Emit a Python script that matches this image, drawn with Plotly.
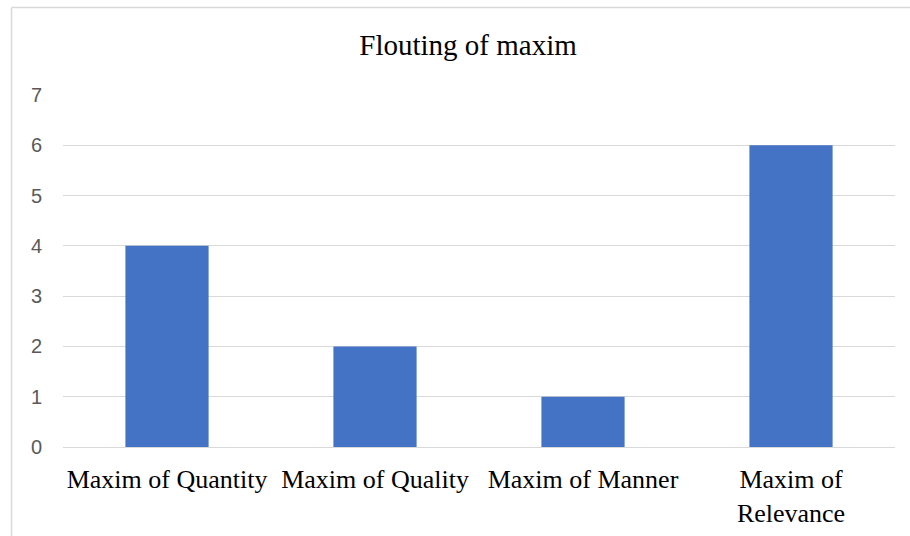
import plotly.graph_objects as go

categories = ["Maxim of Quantity", "Maxim of Quality", "Maxim of Manner", "Maxim of<br>Relevance"]
values = [4, 2, 1, 6]
y_ticks = [0, 1, 2, 3, 4, 5, 6, 7]

W, H = 910, 536
ml, mr, mt, mb = 63, 15, 95, 89
pw, ph = W - ml - mr, H - mt - mb

def px_x(p):
    return (p - ml) / pw

def px_y(p):
    return (H - mb - p) / ph

fig = go.Figure(go.Bar(x=categories, y=values, marker=dict(color="#4472C4", line=dict(width=0))))

border = "#D9D9D9"
fig.update_layout(
    width=W, height=H,
    margin=dict(l=ml, r=mr, t=mt, b=mb, autoexpand=False),
    paper_bgcolor="white", plot_bgcolor="white",
    bargap=0.6,
    showlegend=False,
    title=dict(text="Flouting of maxim", x=468 / W, xanchor="center", y=1 - 45 / H, yanchor="middle",
               font=dict(family="Liberation Serif", size=29, color="#000000")),
    xaxis=dict(automargin=False, showgrid=False, showline=False, zeroline=False, ticks="", ticklabelstandoff=14,
               tickfont=dict(family="Liberation Serif", size=26, color="#000000")),
    yaxis=dict(automargin=False, range=[0, 7], tickvals=y_ticks, showgrid=True, gridcolor=border, gridwidth=1,
               zeroline=True, zerolinecolor=border, zerolinewidth=1, showline=False, ticks="",
               ticklabelstandoff=20,
               tickfont=dict(family="Liberation Sans", size=20, color="#595959")),
    shapes=[
        dict(type="line", xref="paper", yref="paper", x0=px_x(11.5), x1=px_x(11.5), y0=px_y(H + 5), y1=px_y(7.5),
             line=dict(color=border, width=1.5)),
        dict(type="line", xref="paper", yref="paper", x0=px_x(11.5), x1=px_x(W + 5), y0=px_y(7.5), y1=px_y(7.5),
             line=dict(color=border, width=1.5)),
    ],
)

fig.write_html("out.html", config={"displayModeBar": False},
               post_script="document.body.style.margin='0';document.body.style.overflow='hidden';")
